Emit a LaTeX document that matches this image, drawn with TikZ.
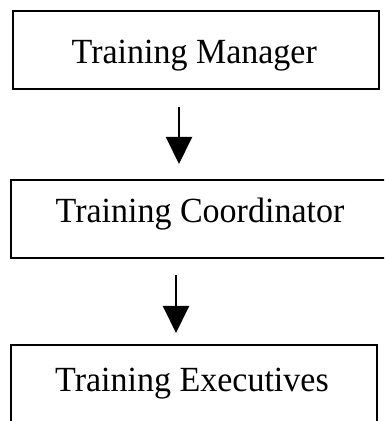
\documentclass[tikz,border=0pt]{standalone}
\usepackage{fontspec}
\setmainfont{Liberation Serif}
\usetikzlibrary{arrows.meta}
\begin{document}
\begin{tikzpicture}[x=1pt,y=1pt,
  boxnode/.style={draw=black,line width=2.6pt,inner sep=0pt,outer sep=0pt},
  label text/.style={inner sep=0pt,anchor=base west,font=\fontsize{34}{40}\selectfont},
  arr/.style={line width=2pt,-{Triangle[width=26pt,length=27pt]}}]
\useasboundingbox (0,0) rectangle (384,421);
\clip (0,0) rectangle (384,421);
% boxes (y measured from top: 421 - y)
\node[boxnode,minimum width=366pt,minimum height=78pt] (box1) at (196,371) {};
\node[boxnode,minimum width=385pt,minimum height=78pt] (box2) at (203.5,202) {};
\node[boxnode,minimum width=366pt,minimum height=80pt] (box3) at (194,36) {};
% texts
\node[label text] (t1) at (71.5,357.5) {\scalebox{1}[1.04]{Training Manager}};
\node[label text] (t2) at (55.5,198) {\scalebox{1}[1.04]{Training Coordinator}};
\node[label text] (t3) at (55,30) {\scalebox{1}[1.04]{Training Executives}};
% arrows
\coordinate (ax1) at (179,0);
\coordinate (ax2) at (176,0);
\draw[arr,shorten <=18pt,shorten >=16pt] (box1.south -| ax1) -- (box2.north -| ax1);
\draw[arr,shorten <=17pt,shorten >=12pt] (box2.south -| ax2) -- (box3.north -| ax2);
\end{tikzpicture}
\end{document}
